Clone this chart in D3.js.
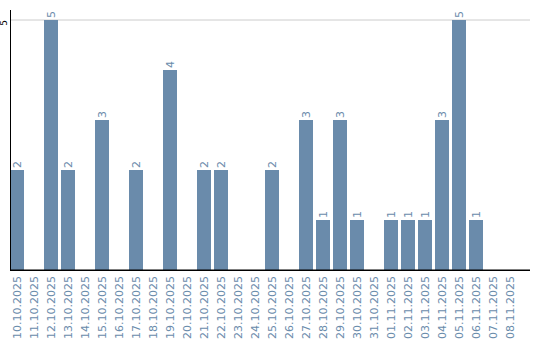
<!DOCTYPE html>
<html><head><meta charset="utf-8">
<script src="https://cdn.jsdelivr.net/npm/d3@7"></script>
<style>body{margin:0;background:#fff}svg{display:block}text{font-family:"DejaVu Sans",sans-serif}</style>
</head><body><svg id="c" width="540" height="340"></svg>
<script>
const categories = ["10.10.2025","11.10.2025","12.10.2025","13.10.2025","14.10.2025","15.10.2025","16.10.2025","17.10.2025","18.10.2025","19.10.2025","20.10.2025","21.10.2025","22.10.2025","23.10.2025","24.10.2025","25.10.2025","26.10.2025","27.10.2025","28.10.2025","29.10.2025","30.10.2025","31.10.2025","01.11.2025","02.11.2025","03.11.2025","04.11.2025","05.11.2025","06.11.2025","07.11.2025","08.11.2025"];
const values = [2,0,5,2,0,3,0,2,0,4,0,2,2,0,0,2,0,3,1,3,1,0,1,1,1,3,5,1,0,0];
const yTicks = [5];

const svg = d3.select("#c");
const color = "#6a8bab";
const data = categories.map((c, i) => ({c, v: values[i]}));
const x = d3.scaleBand().domain(categories).range([10, 520]).paddingInner(3/17).paddingOuter(3/34).align(0);
const y = d3.scaleLinear().domain([0, 5.2]).range([270, 10]);

// gridlines
svg.selectAll(".grid").data(yTicks).enter().append("line")
  .attr("x1", 10).attr("x2", 530).attr("y1", d => y(d)).attr("y2", d => y(d))
  .attr("stroke", "#ccc").attr("stroke-width", 1);

// bars
svg.selectAll(".bar").data(data).enter().append("rect")
  .attr("x", d => x(d.c)).attr("width", x.bandwidth())
  .attr("y", d => y(d.v)).attr("height", d => y(0) - y(d.v)).attr("fill", color);

// value labels
svg.selectAll(".vl").data(data.filter(d => d.v > 0)).enter().append("text")
  .attr("transform", d => `translate(${x(d.c) + x.bandwidth()/2 + 4},${y(d.v) - 2}) rotate(-90)`)
  .attr("fill", color).attr("font-size", 11).text(d => d.v);

// axes lines
svg.append("line").attr("x1", 10.5).attr("x2", 10.5).attr("y1", 10).attr("y2", 270).attr("stroke", "#000");
svg.append("line").attr("x1", 10).attr("x2", 530).attr("y1", 270.25).attr("y2", 270.25).attr("stroke", "#000").attr("stroke-width", 1.5);

// x labels
svg.selectAll(".xl").data(categories).enter().append("text")
  .attr("transform", c => `translate(${x(c) + x.bandwidth()/2 + 4},276) rotate(-90)`)
  .attr("text-anchor", "end").attr("fill", color).attr("font-size", 11).text(c => c);

// y tick labels
svg.selectAll(".yl").data(yTicks).enter().append("text")
  .attr("transform", t => `translate(7,${y(t) + 3}) rotate(-90)`)
  .attr("text-anchor", "middle").attr("fill", "#000").attr("font-size", 9).text(t => t);
</script></body></html>
